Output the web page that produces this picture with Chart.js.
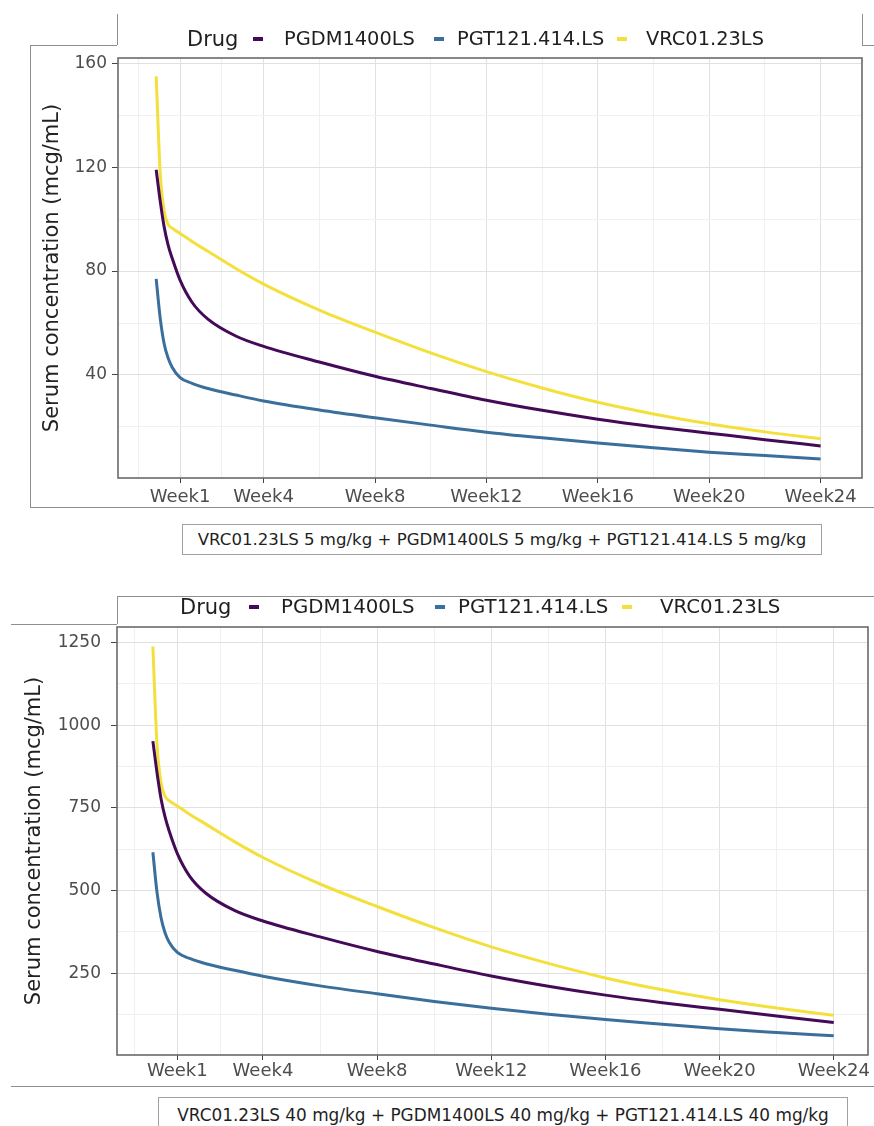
<!DOCTYPE html>
<html>
<head>
<meta charset="utf-8">
<script src="https://cdn.jsdelivr.net/npm/chart.js@4.4.1/dist/chart.umd.min.js"></script>
<style>
  html, body { margin: 0; padding: 0; background: #fff; }
  body { width: 874px; height: 1126px; position: relative; overflow: hidden; font-family: 'DejaVu Sans', sans-serif; }
  .wrap { position: absolute; left: 0; width: 874px; }
  .hl { position: absolute; height: 0; border-top: 1px solid #8e8e8e; }
  .vl { position: absolute; width: 0; border-left: 1px solid #8e8e8e; }
  .lg { position: absolute; white-space: nowrap; color: #1f1f1f; height: 26px; line-height: 26px; }
  .key { position: absolute; height: 4px; }
  .caption { position: absolute; border: 1px solid #a0a0a0; box-sizing: border-box; color: #1f1f1f; text-align: center; white-space: nowrap; background: #fff; }
</style>
</head>
<body>

<div class="wrap" style="top:0; height:520px;"><canvas id="chartLow"></canvas></div>
<div class="wrap" style="top:560px; height:540px;"><canvas id="chartHigh"></canvas></div>

<!-- screenshot frame lines, top panel -->
<div class="hl" style="left:30px; top:45px; width:87px;"></div>
<div class="vl" style="left:30px; top:45px; height:462px;"></div>
<div class="hl" style="left:30px; top:507px; width:844px;"></div>
<div class="vl" style="left:117px; top:14px; height:31px;"></div>
<div class="vl" style="left:862px; top:14px; height:31px;"></div>
<div class="hl" style="left:862px; top:45px; width:12px;"></div>

<!-- screenshot frame lines, bottom panel -->
<div class="hl" style="left:11px; top:624px; width:106px;"></div>
<div class="vl" style="left:117px; top:596px; height:28px;"></div>
<div class="hl" style="left:117px; top:596px; width:757px;"></div>
<div class="hl" style="left:11px; top:1086px; width:863px;"></div>

<div id="legendLow"></div>
<div id="legendHigh"></div>

<div class="caption" style="left:182px; top:524px; width:640px; height:31px; line-height:29px; font-size:16.6px;">VRC01.23LS 5 mg/kg + PGDM1400LS 5 mg/kg + PGT121.414.LS 5 mg/kg</div>
<div class="caption" style="left:158px; top:1097px; width:690px; height:40px; line-height:35px; font-size:16.9px;">VRC01.23LS 40 mg/kg + PGDM1400LS 40 mg/kg + PGT121.414.LS 40 mg/kg</div>

<script>
// ---- data ----
const drugNames = ['PGDM1400LS', 'PGT121.414.LS', 'VRC01.23LS'];
const dayPoints = [1, 2, 3, 4, 5, 7, 10, 14, 21, 28, 42, 56, 70, 84, 98, 112, 126, 140, 154, 168];

// 5 mg/kg each
const pgdm5 = [119, 107, 97, 90, 85, 76.5, 68, 61.5, 55, 51, 45, 39.5, 34.8, 30.3, 26.4, 23, 20.1, 17.6, 15.1, 12.7];
const pgt5  = [77, 62, 52, 46.5, 43, 39, 36.8, 34.8, 32.3, 30, 26.5, 23.5, 20.7, 18, 15.8, 13.8, 12, 10.3, 9, 7.7];
const vrc5  = [155, 118, 103, 98, 96.5, 94.5, 91.4, 87.6, 81, 75, 65, 56.5, 48.5, 41.3, 35, 29.5, 25, 21.2, 18.1, 15.5];

// 40 mg/kg each
const pgdm40 = [952, 858, 778, 722, 680, 612, 544, 492, 440, 408, 360, 316, 278, 242, 211, 184, 161, 141, 121, 101];
const pgt40  = [616, 496, 418, 372, 344, 313, 295, 279, 259, 241, 212, 188, 165, 144, 126, 110, 96, 82, 71, 61];
const vrc40  = [1238, 945, 826, 785, 772, 756, 731, 701, 648, 600, 520, 452, 388, 330, 280, 236, 200, 170, 145, 123];

const weekTickDays = [7, 28, 56, 84, 112, 140, 168];
const weekTickLabels = ['Week1', 'Week4', 'Week8', 'Week12', 'Week16', 'Week20', 'Week24'];
const yTicksLow = [40, 80, 120, 160];
const yTicksHigh = [250, 500, 750, 1000, 1250];

const colors = ['#440a57', '#3a6f9c', '#f3e03c'];

// minor breaks at midpoints, plus one step beyond the ends when inside the range
function withMinors(majors, lo, hi) {
    const out = [];
    const first = majors[0] - (majors[1] - majors[0]) / 2;
    if (first > lo) out.push(first);
    majors.forEach((m, i) => {
        out.push(m);
        if (i < majors.length - 1) out.push((m + majors[i + 1]) / 2);
    });
    const last = majors[majors.length - 1] + (majors[majors.length - 1] - majors[majors.length - 2]) / 2;
    if (last < hi) out.push(last);
    return out;
}

const panelBorder = {
    id: 'panelBorder',
    afterDraw(chart) {
        const { ctx, chartArea: a } = chart;
        ctx.save();
        ctx.strokeStyle = '#6a6a6a';
        ctx.lineWidth = 1.6;
        ctx.strokeRect(a.left, a.top, a.right - a.left, a.bottom - a.top);
        ctx.restore();
    }
};

function buildChart(canvasId, series, opts) {
    const xAll = withMinors(weekTickDays, opts.xMin, opts.xMax);
    const yAll = withMinors(opts.yTicks, opts.yMin, opts.yMax);
    const isMajorX = v => weekTickDays.includes(v);
    const isMajorY = v => opts.yTicks.includes(v);

    return new Chart(document.getElementById(canvasId).getContext('2d'), {
        type: 'line',
        data: {
            datasets: series.map((vals, i) => ({
                label: drugNames[i],
                data: dayPoints.map((d, j) => ({ x: d, y: vals[j] })),
                borderColor: colors[i],
                borderWidth: 3,
                pointRadius: 0,
                fill: false,
                cubicInterpolationMode: 'monotone'
            }))
        },
        options: {
            responsive: true,
            maintainAspectRatio: false,
            animation: false,
            layout: { padding: { left: 0, top: opts.padTop, right: opts.padRight, bottom: 0 } },
            plugins: { legend: { display: false }, tooltip: { enabled: false } },
            scales: {
                x: {
                    type: 'linear',
                    min: opts.xMin,
                    max: opts.xMax,
                    afterBuildTicks: s => { s.ticks = xAll.map(v => ({ value: v })); },
                    afterFit: s => { s.height = opts.xHeight; },
                    border: { display: false },
                    grid: {
                        color: c => (c.tick && isMajorX(c.tick.value)) ? '#e1e1e1' : '#f0f0f0',
                        tickColor: c => (c.tick && isMajorX(c.tick.value)) ? '#444' : 'rgba(0,0,0,0)',
                        tickLength: 5,
                        lineWidth: 1
                    },
                    ticks: {
                        autoSkip: false,
                        maxRotation: 0,
                        padding: opts.xPad,
                        color: '#4d4d4d',
                        font: { family: 'DejaVu Sans', size: 18 },
                        callback: v => {
                            const k = weekTickDays.indexOf(v);
                            return k >= 0 ? weekTickLabels[k] : '';
                        }
                    }
                },
                y: {
                    type: 'linear',
                    min: opts.yMin,
                    max: opts.yMax,
                    afterBuildTicks: s => { s.ticks = yAll.map(v => ({ value: v })); },
                    afterFit: s => { s.width = opts.yWidth; },
                    border: { display: false },
                    grid: {
                        color: c => (c.tick && isMajorY(c.tick.value)) ? '#e1e1e1' : '#f0f0f0',
                        tickColor: c => (c.tick && isMajorY(c.tick.value)) ? '#444' : 'rgba(0,0,0,0)',
                        tickLength: 6,
                        lineWidth: 1
                    },
                    ticks: {
                        autoSkip: false,
                        padding: opts.yPad,
                        color: '#4d4d4d',
                        font: { family: 'DejaVu Sans', size: 17 },
                        callback: v => isMajorY(v) ? String(v) : ''
                    },
                    title: {
                        display: true,
                        text: 'Serum concentration (mcg/mL)',
                        color: '#222',
                        font: { family: 'DejaVu Sans', size: 21 },
                        padding: { top: opts.titlePad, bottom: 0 }
                    }
                }
            }
        },
        plugins: [panelBorder]
    });
}

buildChart('chartLow', [pgdm5, pgt5, vrc5], {
    xMin: -8.6, xMax: 178.4, yMin: 0.35, yMax: 162,
    yTicks: yTicksLow, padTop: 58, padRight: 12,
    xHeight: 42, yWidth: 118, xPad: 4, yPad: 5, titlePad: 40
});

buildChart('chartHigh', [pgdm40, pgt40, vrc40], {
    xMin: -7.8, xMax: 176.4, yMin: 3, yMax: 1297,
    yTicks: yTicksHigh, padTop: 67, padRight: 6,
    xHeight: 45, yWidth: 117, xPad: 1, yPad: 10, titlePad: 22
});

// HTML legends (ggplot-style, title on the left)
function buildLegend(id, cy, layout) {
    const host = document.getElementById(id);
    const title = document.createElement('div');
    title.className = 'lg';
    title.textContent = 'Drug';
    title.style.left = layout.title + 'px';
    title.style.top = (cy - 13) + 'px';
    title.style.fontSize = '21px';
    host.appendChild(title);
    drugNames.forEach((name, i) => {
        const key = document.createElement('div');
        key.className = 'key';
        key.style.left = layout.keys[i] + 'px';
        key.style.top = (cy - 2) + 'px';
        key.style.width = '10px';
        key.style.background = colors[i];
        host.appendChild(key);
        const t = document.createElement('div');
        t.className = 'lg';
        t.textContent = name;
        t.style.left = layout.labels[i] + 'px';
        t.style.top = (cy - 13) + 'px';
        t.style.fontSize = layout.size + 'px';
        host.appendChild(t);
    });
}

buildLegend('legendLow', 39, { title: 187, keys: [253, 434, 617], labels: [284, 457, 646], size: 19.4 });
buildLegend('legendHigh', 607, { title: 180, keys: [249, 435, 622], labels: [281, 458, 660], size: 19.8 });
</script>
</body>
</html>
